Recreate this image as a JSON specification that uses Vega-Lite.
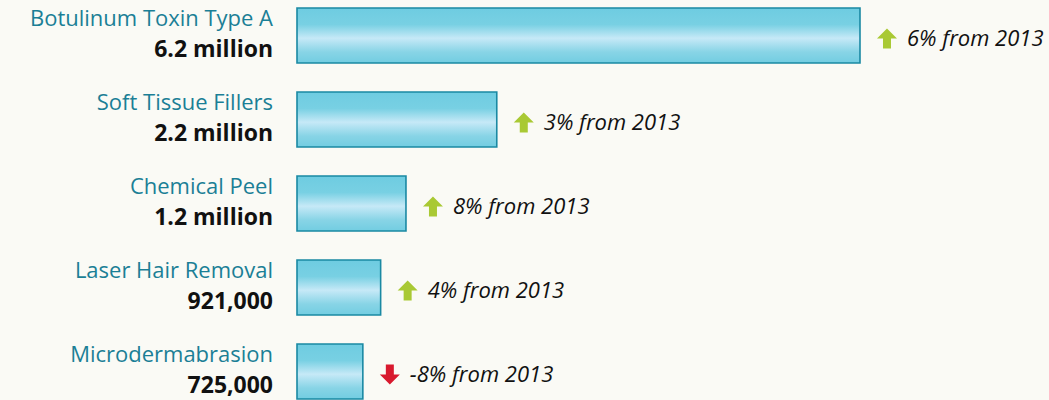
{
  "$schema": "https://vega.github.io/schema/vega-lite/v6.json",
  "autosize": {"type": "none"},
  "padding": {"left": 297, "top": 0, "right": 189, "bottom": 0},
  "width": 563,
  "height": {"step": 84},
  "background": "#fafaf5",
  "config": {"view": {"stroke": null}, "font": "Open Sans"},
  "data": {
    "values": [
      {"procedure": "Botulinum Toxin Type A", "value": 6200000, "label": "6.2 million", "change": "6% from 2013", "dir": "up"},
      {"procedure": "Soft Tissue Fillers", "value": 2200000, "label": "2.2 million", "change": "3% from 2013", "dir": "up"},
      {"procedure": "Chemical Peel", "value": 1200000, "label": "1.2 million", "change": "8% from 2013", "dir": "up"},
      {"procedure": "Laser Hair Removal", "value": 921000, "label": "921,000", "change": "4% from 2013", "dir": "up"},
      {"procedure": "Microdermabrasion", "value": 725000, "label": "725,000", "change": "-8% from 2013", "dir": "down"}
    ]
  },
  "encoding": {
    "y": {"field": "procedure", "type": "nominal", "sort": null, "axis": null,
          "scale": {"paddingInner": 0.345, "paddingOuter": 0.095}},
    "x": {"field": "value", "type": "quantitative", "axis": null,
          "scale": {"domain": [0, 6200000], "nice": false, "zero": true}}
  },
  "layer": [
    {
      "mark": {
        "type": "bar",
        "fill": {
          "gradient": "linear", "x1": 0, "y1": 0, "x2": 0, "y2": 1,
          "stops": [
            {"offset": 0, "color": "#6ecce1"},
            {"offset": 0.3, "color": "#78d0e3"},
            {"offset": 0.55, "color": "#c6e9f7"},
            {"offset": 0.8, "color": "#88d4e6"},
            {"offset": 1, "color": "#72cde1"}
          ]
        },
        "stroke": "#1a89a3",
        "strokeWidth": 1.6
      }
    },
    {
      "mark": {"type": "text", "align": "right", "baseline": "alphabetic", "dx": -24, "dy": -9,
               "fontSize": 22, "color": "#1b7f96"},
      "encoding": {"x": {"datum": 0}, "text": {"field": "procedure"}}
    },
    {
      "mark": {"type": "text", "align": "right", "baseline": "alphabetic", "dx": -24, "dy": 21.5,
               "fontSize": 23, "fontWeight": "bold", "color": "#111111"},
      "encoding": {"x": {"datum": 0}, "text": {"field": "label"}}
    },
    {
      "mark": {"type": "point", "filled": true, "opacity": 1, "size": 400, "xOffset": 27, "yOffset": 3},
      "encoding": {
        "shape": {"field": "dir", "type": "nominal", "legend": null,
                  "scale": {"domain": ["up", "down"],
                            "range": ["M0,-1L1,0L0.4,0L0.4,1L-0.4,1L-0.4,0L-1,0Z", "M0,1L1,0L0.4,0L0.4,-1L-0.4,-1L-0.4,0L-1,0Z"]}},
        "color": {"field": "dir", "type": "nominal", "legend": null,
                  "scale": {"domain": ["up", "down"], "range": ["#a9c934", "#d8192e"]}}
      }
    },
    {
      "mark": {"type": "text", "align": "left", "baseline": "alphabetic", "dx": 47, "dy": 11,
               "fontSize": 22, "fontStyle": "italic", "color": "#111111"},
      "encoding": {"text": {"field": "change"}}
    }
  ]
}
